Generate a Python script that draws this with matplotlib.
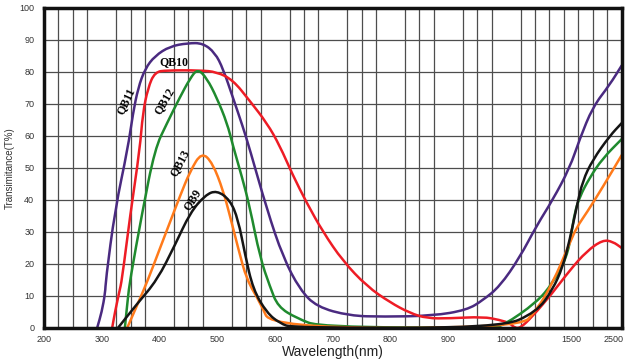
import numpy as np
import matplotlib.pyplot as plt
from matplotlib.path import Path
from matplotlib.patches import PathPatch
from matplotlib.transforms import ScaledTranslation

# wavelength (nm) / transmittance (%)
qb11_wl = [292, 300, 306, 307, 323, 345, 354, 363, 375, 392, 418, 449, 475, 496, 510, 527,
           544, 556, 586, 614, 643, 672, 729, 787, 873, 932, 960, 989, 1104, 1235, 1358,
           1489, 1669, 1926, 2263, 2500]
qb11_t = [0, 5, 11, 15, 37, 56, 67, 75, 81, 85, 88, 89, 89, 86, 81, 72,
          63, 56, 37, 22, 12, 6.6, 3.8, 3.5, 3.8, 5.6, 8.7, 13, 22, 32, 40,
          50, 59, 69, 76, 82]

qb10_wl = [318, 323, 330, 335, 349, 366, 371, 380, 392, 413, 470, 499, 527, 556, 586, 608,
           630, 655, 683, 717, 759, 799, 833, 863, 902, 960, 989, 1028, 1066, 1110, 1200,
           1358, 1489, 1808, 2125, 2322, 2500]
qb10_t = [0, 5, 11, 15, 35, 56, 67, 75, 80, 80.5, 80.5, 80, 77.5, 71, 64, 57,
          48, 39, 30, 21, 13, 8, 4.7, 3, 3, 3.5, 2.5, 1.5, 0, 0, 3.5,
          11, 18, 24, 27.5, 27, 25]

qb12_wl = [340, 345, 349, 370, 392, 413, 435, 453, 466, 482, 499, 517, 527, 543, 556, 574,
           591, 605, 638, 678, 972, 994, 1235, 1358, 1466, 1511, 1571, 1669, 1868, 2125, 2500]
qb12_t = [0, 9, 15, 36, 56, 64, 72, 78, 81, 78, 72, 64, 57, 47, 38, 22,
          13, 6.6, 3, 0.3, 0, 0.6, 8, 14, 22, 30, 36, 41, 47, 53, 59]

qb13_wl = [344, 361, 380, 401, 418, 435, 453, 473, 492, 510, 522, 536, 551, 574, 594,
           1104, 1235, 1358, 1489, 1611, 1808, 2125, 2500]
qb13_t = [0, 7, 15, 25, 33, 41, 49, 55, 51.5, 43, 35, 25, 15, 8, 0,
          0, 5.6, 14, 26.5, 31.5, 36, 44, 54]

qb9_wl = [328, 361, 396, 427, 453, 479, 499, 522, 536, 548, 562, 586, 608, 631,
          990, 1235, 1358, 1435, 1489, 1611, 1729, 1926, 2263, 2500]
qb9_t = [0, 7.5, 15, 26, 36, 41.5, 43, 40, 34, 23, 12, 4.7, 1.5, 0,
         0, 5, 12, 19, 27.5, 38, 46, 52.5, 60, 64]

xticks = [200, 300, 400, 500, 600, 700, 800, 900, 1000, 1500, 2500]

# broken wavelength axis: 25 nm cells up to 1000, then compressed
brk_wl = [200, 1000, 1500, 2500]
brk_pos = [0, 32, 36.5, 40]


def fwd(x):
    return np.interp(x, brk_wl, brk_pos)


def inv(u):
    return np.interp(u, brk_pos, brk_wl)


def curve(ax, wl, t, color):
    # read points used as quadratic bezier control points -> smooth pen stroke
    u = fwd(np.asarray(wl, float))
    t = np.asarray(t, float)
    verts = [(wl[0], t[0])]
    codes = [Path.MOVETO]
    mid = lambda i: (float(inv((u[i] + u[i + 1]) / 2)), (t[i] + t[i + 1]) / 2)
    verts.append(mid(0))
    codes.append(Path.LINETO)
    for i in range(1, len(wl) - 1):
        verts += [(wl[i], t[i]), mid(i)]
        codes += [Path.CURVE3, Path.CURVE3]
    verts.append((wl[-1], t[-1]))
    codes.append(Path.LINETO)
    ax.add_patch(PathPatch(Path(verts, codes), fill=False, edgecolor=color, lw=1.8,
                           capstyle='round', joinstyle='round'))


fig = plt.figure(figsize=(6.3, 3.6), dpi=100)
ax = fig.add_axes([0.0698, 0.089, 0.917, 0.889])
ax.set_xscale('function', functions=(fwd, inv))
ax.set_xlim(200, 2500)
ax.set_ylim(0, 100)

curve(ax, qb11_wl, qb11_t, '#4a2a80')
curve(ax, qb10_wl, qb10_t, '#ee1c25')
curve(ax, qb12_wl, qb12_t, '#1f8a2e')
curve(ax, qb13_wl, qb13_t, '#ff7a1a')
curve(ax, qb9_wl, qb9_t, '#151515')

ax.set_xticks(inv(np.arange(41)), minor=True)
ax.set_xticks(xticks)
ax.set_xticklabels([str(v) for v in xticks], family='Liberation Sans')
ax.set_yticks(np.arange(0, 101, 10))
ax.set_yticklabels([str(v) for v in range(0, 101, 10)], family='Liberation Sans')
ax.grid(True, which='minor', axis='x', color='#4d4d4d', lw=0.9)
ax.grid(True, which='major', axis='y', color='#4d4d4d', lw=0.9)
ax.set_axisbelow(True)
ax.tick_params(which='both', length=0, labelsize=6.5, labelcolor='#333333')
ax.tick_params(axis='y', pad=7)
ax.tick_params(axis='x', pad=5)
ax.get_xticklabels()[-1].set_transform(
    ax.get_xticklabels()[-1].get_transform() + ScaledTranslation(-8 / 100, 0, fig.dpi_scale_trans))
for s in ax.spines.values():
    s.set_linewidth(2.5)
    s.set_color('#111111')
    s.set_zorder(5)

ax.set_xlabel('Wavelength(nm)', fontsize=10, family='Liberation Sans', color='#222222', labelpad=1)
ax.set_ylabel('Transimitance(T%)', fontsize=7, family='Liberation Sans', color='#333333', labelpad=3)

lab = dict(family='Liberation Serif', weight='bold', fontsize=8.5, ha='center', va='center')
ax.text(342, 71, 'QB11', rotation=65, **lab)
ax.text(425, 83, 'QB10', rotation=0, **lab)
ax.text(408, 71, 'QB12', rotation=60, **lab)
ax.text(435, 51.5, 'QB13', rotation=62, **lab)
ax.text(456, 40, 'QB9', rotation=58, **lab)

fig.savefig('out.png', dpi=100)
